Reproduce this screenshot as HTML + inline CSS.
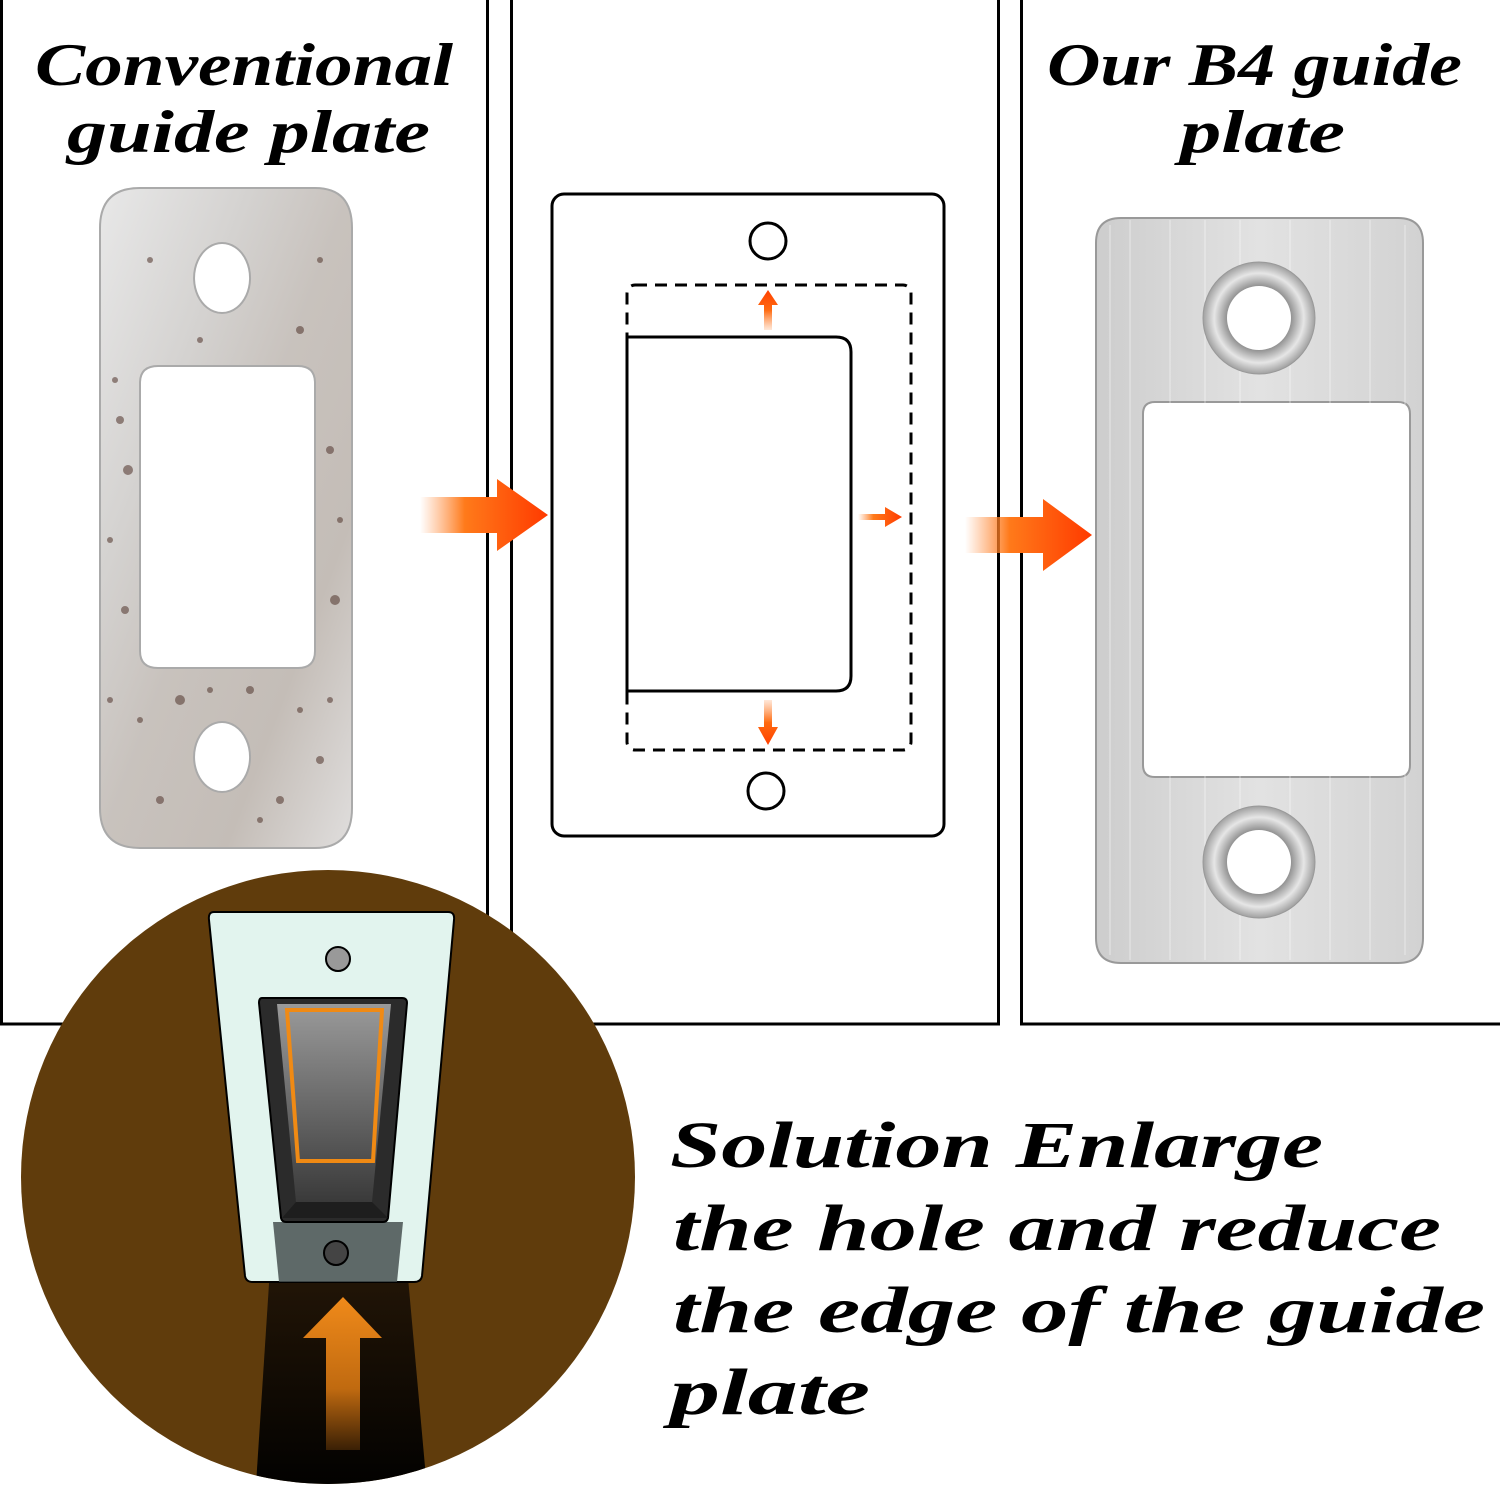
<!DOCTYPE html>
<html><head><meta charset="utf-8"><style>
html,body{margin:0;padding:0;background:#fff;}
svg{display:block;}
text{font-family:"Liberation Serif",serif;font-weight:bold;font-style:italic;fill:#000;}
</style></head><body>
<svg width="1500" height="1488" viewBox="0 0 1500 1488" xmlns="http://www.w3.org/2000/svg">
<defs>
<linearGradient id="arr" x1="0" x2="1" y1="0" y2="0">
<stop offset="0" stop-color="#ff8a3d" stop-opacity="0"/>
<stop offset="0.35" stop-color="#ff7a1a"/>
<stop offset="1" stop-color="#ff3a00"/>
</linearGradient>
<linearGradient id="arrv" x1="0" x2="0" y1="1" y2="0">
<stop offset="0" stop-color="#ff8a3d" stop-opacity="0.2"/>
<stop offset="0.5" stop-color="#ff6a10"/>
<stop offset="1" stop-color="#ff4000"/>
</linearGradient>
<linearGradient id="arrd" x1="0" x2="0" y1="0" y2="1">
<stop offset="0" stop-color="#ff8a3d" stop-opacity="0.2"/>
<stop offset="0.5" stop-color="#ff6a10"/>
<stop offset="1" stop-color="#ff4000"/>
</linearGradient>
<linearGradient id="rust" x1="0" x2="1" y1="0" y2="1">
<stop offset="0" stop-color="#e8e8e8"/>
<stop offset="0.3" stop-color="#d4d2d0"/>
<stop offset="0.5" stop-color="#c8c2bd"/>
<stop offset="0.75" stop-color="#c4bdb7"/>
<stop offset="1" stop-color="#e0dedd"/>
</linearGradient>
<linearGradient id="brush" x1="0" x2="1" y1="0" y2="0">
<stop offset="0" stop-color="#cdcdcd"/>
<stop offset="0.5" stop-color="#e2e2e2"/>
<stop offset="1" stop-color="#d2d2d2"/>
</linearGradient>
<radialGradient id="csk" cx="0.5" cy="0.5" r="0.5">
<stop offset="0.55" stop-color="#8a8a8a"/>
<stop offset="0.8" stop-color="#e6e6e6"/>
<stop offset="1" stop-color="#a0a0a0"/>
</radialGradient>
<linearGradient id="swi" x1="0" x2="0" y1="0" y2="1">
<stop offset="0" stop-color="#9a9a9a"/>
<stop offset="1" stop-color="#3a3a3a"/>
</linearGradient>
<linearGradient id="oarr" x1="0" x2="0" y1="0" y2="1">
<stop offset="0" stop-color="#f08a1a"/>
<stop offset="0.6" stop-color="#c06a10"/>
<stop offset="1" stop-color="#3a2005"/>
</linearGradient>
<linearGradient id="beam" x1="0" x2="0" y1="0" y2="1">
<stop offset="0" stop-color="#2a1a08"/>
<stop offset="1" stop-color="#000"/>
</linearGradient>
<clipPath id="circ"><ellipse cx="328" cy="1177" rx="307" ry="307"/></clipPath>
</defs>

<!-- panels -->
<rect x="1.5" y="-2" width="486" height="1026" fill="none" stroke="#000" stroke-width="3"/>
<rect x="511.5" y="-2" width="487" height="1026" fill="none" stroke="#000" stroke-width="3"/>
<rect x="1021.5" y="-2" width="480" height="1026" fill="none" stroke="#000" stroke-width="3"/>

<!-- titles -->
<text x="35" y="85" font-size="60" textLength="418" lengthAdjust="spacingAndGlyphs">Conventional</text>
<text x="67" y="152" font-size="60" textLength="363" lengthAdjust="spacingAndGlyphs">guide plate</text>
<text x="1047" y="85" font-size="60" textLength="415" lengthAdjust="spacingAndGlyphs">Our B4 guide</text>
<text x="1180" y="152" font-size="60" textLength="165" lengthAdjust="spacingAndGlyphs">plate</text>

<!-- left rusty plate -->
<g>
<path fill-rule="evenodd" fill="url(#rust)" stroke="#aaa" stroke-width="2"
 d="M140 188 H315 Q352 188 352 228 V808 Q352 848 315 848 H140 Q100 848 100 808 V228 Q100 188 140 188 Z
 M158 366 H298 Q315 366 315 383 V651 Q315 668 298 668 H158 Q140 668 140 651 V383 Q140 366 158 366 Z
 M222 243 a28 35 0 1 0 0.1 0 Z M222 722 a28 35 0 1 0 0.1 0 Z"/>
<g fill="#5a4038" opacity="0.6">
<circle cx="120" cy="420" r="4"/><circle cx="128" cy="470" r="5"/><circle cx="110" cy="540" r="3"/><circle cx="125" cy="610" r="4"/>
<circle cx="330" cy="450" r="4"/><circle cx="340" cy="520" r="3"/><circle cx="335" cy="600" r="5"/><circle cx="180" cy="700" r="5"/>
<circle cx="250" cy="690" r="4"/><circle cx="300" cy="710" r="3"/><circle cx="160" cy="800" r="4"/><circle cx="280" cy="800" r="4"/>
<circle cx="200" cy="340" r="3"/><circle cx="300" cy="330" r="4"/><circle cx="150" cy="260" r="3"/><circle cx="320" cy="260" r="3"/>
<circle cx="140" cy="720" r="3"/><circle cx="320" cy="760" r="4"/><circle cx="110" cy="700" r="3"/><circle cx="210" cy="690" r="3"/>
<circle cx="260" cy="820" r="3"/><circle cx="330" cy="700" r="3"/><circle cx="115" cy="380" r="3"/>
</g>
</g>

<!-- big arrows -->
<path d="M420 497 H497 V479 L548 515 L497 551 V533 H420 Z" fill="url(#arr)"/>
<path d="M965 517 H1043 V499 L1092 535 L1043 571 V553 H965 Z" fill="url(#arr)"/>

<!-- middle diagram -->
<rect x="552" y="194" width="392" height="642" rx="12" fill="none" stroke="#000" stroke-width="3"/>
<circle cx="768" cy="241" r="18" fill="none" stroke="#000" stroke-width="3"/>
<circle cx="766" cy="791" r="18" fill="none" stroke="#000" stroke-width="3"/>
<rect x="627" y="285" width="284" height="465" rx="8" fill="none" stroke="#000" stroke-width="3" stroke-dasharray="12 8"/>
<path d="M627 337 H836 Q851 337 851 352 V676 Q851 691 836 691 H627 V337" fill="#fff" stroke="#000" stroke-width="3"/>
<path d="M764 330 V305 H758 L768 290 L778 305 H772 V330 Z" fill="url(#arrv)"/>
<path d="M764 700 V727 H758 L768 745 L778 727 H772 V700 Z" fill="url(#arrd)"/>
<path d="M858 514 H885 V507 L902 517 L885 527 V520 H858 Z" fill="url(#arr)"/>

<!-- right brushed plate -->
<path fill-rule="evenodd" fill="url(#brush)" stroke="#999" stroke-width="2"
 d="M1121 218 H1398 Q1423 218 1423 243 V938 Q1423 963 1398 963 H1121 Q1096 963 1096 938 V243 Q1096 218 1121 218 Z
 M1155 402 H1398 Q1410 402 1410 414 V765 Q1410 777 1398 777 H1155 Q1143 777 1143 765 V414 Q1143 402 1155 402 Z"/>
<g stroke="#fff" stroke-width="1" opacity="0.5">
<line x1="1110" y1="225" x2="1110" y2="955"/><line x1="1130" y1="220" x2="1130" y2="960"/><line x1="1170" y1="220" x2="1170" y2="960"/>
<line x1="1205" y1="220" x2="1205" y2="960"/><line x1="1240" y1="220" x2="1240" y2="960"/><line x1="1290" y1="220" x2="1290" y2="960"/>
<line x1="1330" y1="220" x2="1330" y2="960"/><line x1="1370" y1="220" x2="1370" y2="960"/><line x1="1405" y1="225" x2="1405" y2="955"/>
</g>
<circle cx="1259" cy="318" r="56" fill="url(#csk)" stroke="#999"/>
<circle cx="1259" cy="318" r="32" fill="#fff"/>
<circle cx="1259" cy="862" r="56" fill="url(#csk)" stroke="#999"/>
<circle cx="1259" cy="862" r="32" fill="#fff"/>

<!-- circle illustration -->
<ellipse cx="328" cy="1177" rx="307" ry="307" fill="#603c0c"/>
<g clip-path="url(#circ)">
<path d="M273 1222 H403 L428 1500 H255 Z" fill="url(#beam)"/>
</g>
<path d="M214 912 H448 Q455 912 454 920 L422 1276 Q421 1282 414 1282 H253 Q246 1282 245 1276 L209 920 Q208 912 214 912 Z" fill="#e2f4ee" stroke="#000" stroke-width="2"/>
<path d="M273 1222 H403 L397 1282 H279 Z" fill="#475050" opacity="0.85"/>
<path d="M262 998 H402 Q407 998 407 1003 L388 1218 Q387 1222 383 1222 H286 Q282 1222 281 1218 L259 1003 Q259 998 262 998 Z" fill="#2b2b2b" stroke="#000" stroke-width="2"/>
<path d="M277 1004 H391 L372 1202 H296 Z" fill="url(#swi)"/>
<path d="M296 1202 H372 L388 1218 H282 Z" fill="#1e1e1e"/>
<path d="M287 1010 H382 L373 1161 H298 Z" fill="none" stroke="#f08a14" stroke-width="4"/>
<circle cx="338" cy="959" r="12" fill="#999" stroke="#000" stroke-width="2"/>
<circle cx="336" cy="1253" r="12" fill="#444" stroke="#000" stroke-width="2"/>
<path d="M326 1450 V1338 H303 L343 1297 L382 1338 H360 V1450 Z" fill="url(#oarr)"/>

<!-- bottom text -->
<text x="670" y="1167" font-size="66" textLength="653" lengthAdjust="spacingAndGlyphs">Solution Enlarge</text>
<text x="673" y="1250" font-size="66" textLength="768" lengthAdjust="spacingAndGlyphs">the hole and reduce</text>
<text x="673" y="1332" font-size="66" textLength="812" lengthAdjust="spacingAndGlyphs">the edge of the guide</text>
<text x="670" y="1414" font-size="66" textLength="200" lengthAdjust="spacingAndGlyphs">plate</text>
</svg>
</body></html>
